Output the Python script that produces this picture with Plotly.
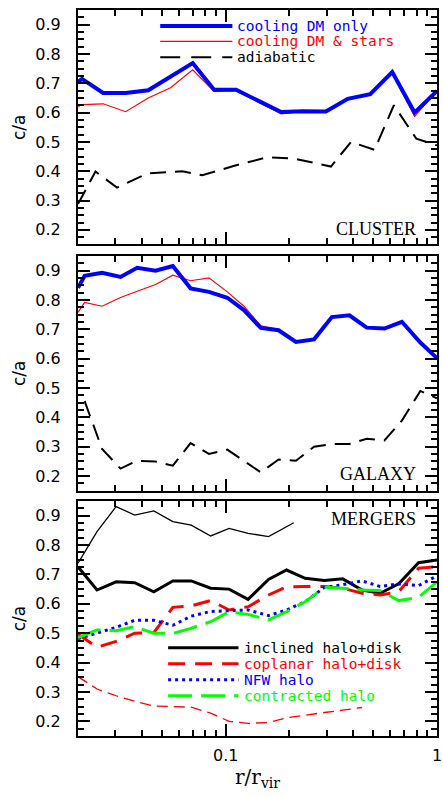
import numpy as np
import plotly.graph_objects as go
from plotly.subplots import make_subplots

# ---- CLUSTER panel ----
r_cl = [0.02, 0.0209, 0.0263, 0.0336, 0.043, 0.0548, 0.0698, 0.0881, 0.112, 0.143,
        0.183, 0.231, 0.298, 0.378, 0.483, 0.614, 0.783, 1.0]
cl_dm_only = [0.704, 0.715, 0.667, 0.667, 0.676, 0.722, 0.769, 0.678, 0.678, 0.64,
              0.602, 0.605, 0.604, 0.647, 0.663, 0.738, 0.600, 0.674]
cl_dm_stars = [0.621, 0.627, 0.630, 0.603, 0.650, 0.685, 0.746, 0.672, 0.675, 0.636,
               0.596, 0.604, 0.604, 0.645, 0.661, 0.735, 0.587, 0.674]
r_cl_adi = [0.02, 0.0242, 0.0306, 0.0425, 0.0623, 0.0775, 0.109, 0.158, 0.211, 0.315,
            0.392, 0.506, 0.625, 0.798, 1.0]
cl_adiabatic = [0.288, 0.399, 0.344, 0.392, 0.400, 0.386, 0.418, 0.448, 0.443, 0.416,
                0.500, 0.473, 0.625, 0.511, 0.488]

# ---- GALAXY panel ----
r_gal = [0.02, 0.0215, 0.026, 0.0318, 0.0381, 0.0466, 0.0562, 0.0682, 0.0833, 0.1018,
         0.122, 0.1466, 0.178, 0.215, 0.262, 0.318, 0.385, 0.465, 0.564, 0.682, 0.834, 1.0]
gal_dm_only = [0.842, 0.883, 0.893, 0.879, 0.910, 0.900, 0.916, 0.840, 0.828, 0.808,
               0.766, 0.705, 0.697, 0.657, 0.666, 0.742, 0.748, 0.706, 0.703, 0.726, 0.655, 0.602]
gal_dm_stars = [0.758, 0.792, 0.779, 0.809, 0.830, 0.853, 0.885, 0.866, 0.876, 0.828,
                0.779, 0.712, 0.700, 0.660, 0.666, 0.742, 0.748, 0.706, 0.703, 0.726, 0.655, 0.602]
r_gal_adi = r_gal[1:]
gal_adiabatic = [0.455, 0.292, 0.225, 0.252, 0.249, 0.235, 0.312, 0.275, 0.290, 0.250,
                 0.212, 0.256, 0.252, 0.300, 0.309, 0.309, 0.327, 0.321, 0.389, 0.490, 0.465]

# ---- MERGERS panel ----
r_mg = [0.02, 0.0246, 0.0303, 0.0371, 0.0457, 0.0562, 0.0687, 0.0849, 0.1038, 0.1276,
        0.1595, 0.194, 0.2378, 0.293, 0.358, 0.442, 0.538, 0.659, 0.818, 1.0]
mg_inclined = [0.726, 0.647, 0.675, 0.672, 0.641, 0.678, 0.678, 0.653, 0.650, 0.615,
               0.683, 0.715, 0.687, 0.679, 0.685, 0.647, 0.636, 0.668, 0.740, 0.749]
mg_coplanar = [0.497, 0.452, 0.472, 0.500, 0.502, 0.588, 0.593, 0.611, 0.579, 0.590,
               0.630, 0.658, 0.659, 0.659, 0.653, 0.636, 0.630, 0.641, 0.721, 0.726]
mg_nfw = [0.481, 0.500, 0.520, 0.544, 0.544, 0.527, 0.558, 0.574, 0.577, 0.579,
          0.560, 0.579, 0.607, 0.656, 0.665, 0.678, 0.659, 0.668, 0.662, 0.695]
mg_contracted = [0.485, 0.511, 0.508, 0.522, 0.500, 0.499, 0.517, 0.539, 0.573, 0.564,
                 0.545, 0.573, 0.607, 0.656, 0.653, 0.647, 0.645, 0.611, 0.622, 0.675]
r_mg_incl_thin = [0.02, 0.0246, 0.0303, 0.0371, 0.0457, 0.0562, 0.0687, 0.0849, 0.1038,
                  0.1276, 0.1595, 0.21]
mg_inclined_thin = [0.738, 0.846, 0.931, 0.902, 0.916, 0.880, 0.868, 0.831, 0.857,
                    0.840, 0.829, 0.876]
r_mg_copl_thin = r_mg[:16]
mg_coplanar_thin = [0.352, 0.310, 0.287, 0.268, 0.252, 0.250, 0.248, 0.228, 0.200, 0.193,
                    0.196, 0.212, 0.222, 0.230, 0.238, 0.247]

y_ticks = [0.2, 0.3, 0.4, 0.5, 0.6, 0.7, 0.8, 0.9]
x_ticks = [0.1, 1]
x_minor = [0.02, 0.03, 0.04, 0.05, 0.06, 0.07, 0.08, 0.09,
           0.2, 0.3, 0.4, 0.5, 0.6, 0.7, 0.8, 0.9]

BLUE, RED, GREEN, BLACK = "#0000ff", "#ff0000", "#00ff00", "#000000"
TICK_FONT = dict(family="DejaVu Sans", size=16, color="black")
MONO = "DejaVu Sans Mono"

fig = make_subplots(rows=3, cols=1, shared_xaxes=True)


def line(x, y, color, width, dash="solid", row=1):
    fig.add_trace(go.Scatter(x=x, y=y, mode="lines", showlegend=False,
                             line=dict(color=color, width=width, dash=dash)),
                  row=row, col=1)


# cluster
line(r_cl, cl_dm_stars, RED, 1.2, row=1)
line(r_cl, cl_dm_only, BLUE, 4, row=1)
line(r_cl_adi, cl_adiabatic, BLACK, 2, "16px,9px", row=1)
# galaxy
line(r_gal, gal_dm_stars, RED, 1.2, row=2)
line(r_gal, gal_dm_only, BLUE, 4, row=2)
line(r_gal_adi, gal_adiabatic, BLACK, 2, "16px,9px", row=2)
# mergers
line(r_mg, mg_inclined, BLACK, 3, row=3)
line(r_mg_incl_thin, mg_inclined_thin, BLACK, 1.3, row=3)
line(r_mg, mg_coplanar, RED, 3, "17px,10px", row=3)
line(r_mg_copl_thin, mg_coplanar_thin, RED, 1.3, "11px,6px", row=3)
line(r_mg, mg_nfw, BLUE, 3, "3px,4px", row=3)
line(r_mg, mg_contracted, GREEN, 3, "24px,9px", row=3)

domains = {1: [0.677, 1.0], 2: [0.338, 0.661], 3: [0.0, 0.3237]}
for row in (1, 2, 3):
    fig.update_yaxes(
        row=row, col=1, domain=domains[row], range=[0.15, 0.95], automargin=False,
        tickvals=y_ticks, ticktext=[f"{v:.1f}" for v in y_ticks],
        ticks="inside", ticklen=12, tickwidth=1.5, tickcolor="black",
        minor=dict(dtick=0.025, tick0=0, ticks="inside", ticklen=6,
                   tickwidth=1.5, tickcolor="black"),
        showline=True, linewidth=2, linecolor="black", mirror="allticks",
        showgrid=False, zeroline=False, tickfont=TICK_FONT, ticklabelstandoff=12,
        title=dict(text="c/a", font=dict(family="DejaVu Sans", size=17, color="black"),
                   standoff=5),
    )
    fig.update_xaxes(
        row=row, col=1, type="log", range=[np.log10(0.02), 0], automargin=False,
        tickvals=x_ticks, ticktext=["0.1", "1"],
        ticks="inside", ticklen=12, tickwidth=1.5, tickcolor="black",
        minor=dict(tickvals=x_minor, ticks="inside", ticklen=6,
                   tickwidth=1.5, tickcolor="black"),
        showline=True, linewidth=2, linecolor="black", mirror="allticks",
        showgrid=False, zeroline=False, tickfont=TICK_FONT, ticklabelstandoff=4,
        showticklabels=(row == 3),
    )
fig.update_xaxes(row=3, col=1,
                 title=dict(text="r/r<sub>vir</sub>",
                            font=dict(family="DejaVu Serif", size=20, color="black"),
                            standoff=4))

# legend keys drawn in panel domain coordinates
legends = [
    ("x", "y", [("cooling DM only", BLUE, 4, "solid", 0.932),
                ("cooling DM & stars", RED, 1.2, "solid", 0.866),
                ("adiabatic", BLACK, 2, "20px,11px", 0.798)], 0.229, 0.430, 0.440),
    ("x3", "y3", [("inclined halo+disk", BLACK, 3, "solid", 0.375),
                  ("coplanar halo+disk", RED, 3, "17px,10px", 0.307),
                  ("NFW halo", BLUE, 3, "3px,4px", 0.239),
                  ("contracted halo", GREEN, 3, "24px,9px", 0.171)], 0.251, 0.447, 0.460),
]
for xr, yr, items, x0, x1, xt in legends:
    for label, color, width, dash, yy in items:
        fig.add_shape(type="line", xref=f"{xr} domain", yref=f"{yr} domain",
                      x0=x0, x1=x1, y0=yy, y1=yy,
                      line=dict(color=color, width=width, dash=dash))
        fig.add_annotation(text=label, xref=f"{xr} domain", yref=f"{yr} domain",
                           x=xt, y=yy, xanchor="left", yanchor="middle", showarrow=False,
                           borderpad=0, font=dict(family=MONO, size=14.5, color=color))

panel_names = [("CLUSTER", "x", "y", 0.065), ("GALAXY", "x2", "y2", 0.07),
               ("MERGERS", "x3", "y3", 0.923)]
for name, xr, yr, yy in panel_names:
    fig.add_annotation(text=name, xref=f"{xr} domain", yref=f"{yr} domain",
                       x=0.948, y=yy, xanchor="right", yanchor="middle", showarrow=False,
                       font=dict(family="Liberation Serif", size=18, color="black"))

fig.update_layout(
    width=443, height=797,
    margin=dict(l=78, r=6, t=10, b=61),
    plot_bgcolor="white", paper_bgcolor="white",
    showlegend=False,
)

# the page's default 8px body margin would shift the figure inside the window
fig.write_html("out.html", config={"displayModeBar": False},
               post_script="document.body.style.margin='0';")
